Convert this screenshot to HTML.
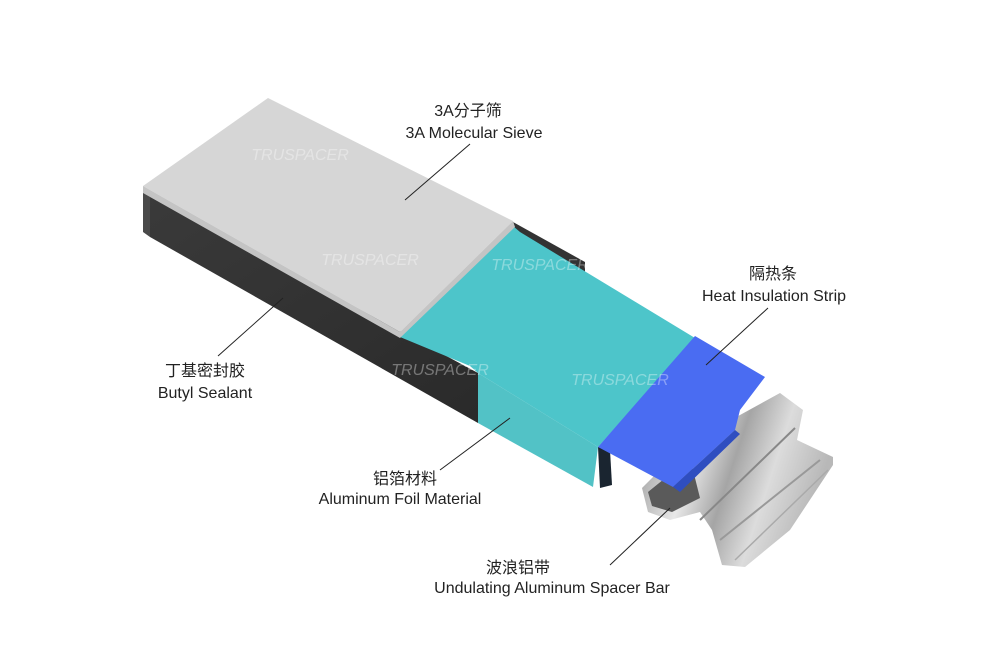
<!DOCTYPE html>
<html><head><meta charset="utf-8"><style>
html,body{margin:0;padding:0;background:#fff;}
svg{display:block}
text{font-family:"Liberation Sans","Noto Sans CJK SC",sans-serif;fill:#222;font-size:16px;text-anchor:middle}
</style></head><body>
<svg width="1000" height="666" viewBox="0 0 1000 666" xmlns="http://www.w3.org/2000/svg">
<defs>
<linearGradient id="blk" x1="0" y1="0" x2="1" y2="1">
<stop offset="0" stop-color="#3a3a3a"/><stop offset="1" stop-color="#2a2a2a"/></linearGradient>
<linearGradient id="al" x1="0" y1="0" x2="1" y2="0.3">
<stop offset="0" stop-color="#8a8a8a"/><stop offset="0.35" stop-color="#e8e8e8"/><stop offset="0.55" stop-color="#a5a5a5"/><stop offset="0.75" stop-color="#dcdcdc"/><stop offset="1" stop-color="#b8b8b8"/></linearGradient>
</defs>
<!-- spacer bar -->
<polygon points="780,393 803,410 797,440 833,457 833,465 790,530 745,567 722,565 712,530 700,512 670,520 648,512 642,488 690,440 740,415" fill="url(#al)"/>
<polygon points="648,492 690,458 700,498 672,512 652,506" fill="#5a5a5a"/>
<line x1="700" y1="520" x2="795" y2="428" stroke="#888" stroke-width="2"/>
<line x1="720" y1="540" x2="820" y2="460" stroke="#999" stroke-width="2"/>
<line x1="735" y1="560" x2="828" y2="470" stroke="#aaa" stroke-width="1.5"/>
<!-- black sealant -->
<polygon points="143,193 478,373 478,423 150,237" fill="url(#blk)"/>
<polygon points="143,190 150,195 150,237 143,232" fill="#4a4a4a"/>
<polygon points="513,222 585,262 585,282 513,234" fill="#333"/>
<!-- teal -->
<polygon points="400,337 513,226 520,232 695,338 598,447 478,373 470,366" fill="#4dc5ca"/>
<polygon points="478,373 598,447 593,487 478,423" fill="#52c2c6"/>
<polygon points="598,447 610,450 612,485 600,488" fill="#1a2530"/>
<!-- blue strip -->
<polygon points="598,447 695,336 765,377 740,410 735,430 673,487" fill="#4a6cf2"/>
<polygon points="673,487 735,430 740,434 680,492" fill="#2f4ec0"/>
<!-- gray sieve -->
<polygon points="143,186 268,98 513,221 400,332" fill="#d6d6d6"/>
<polygon points="143,186 400,332 513,221 515,227 400,338 143,193" fill="#c4c4c4"/>
<!-- watermarks -->
<g opacity="0.35" font-size="14" font-style="italic">
<text x="300" y="160" style="fill:#fff">TRUSPACER</text>
<text x="370" y="265" style="fill:#fff">TRUSPACER</text>
<text x="540" y="270" style="fill:#fff">TRUSPACER</text>
<text x="620" y="385" style="fill:#fff">TRUSPACER</text>
<text x="440" y="375" style="fill:#fff">TRUSPACER</text>
</g>
<!-- leaders -->
<g stroke="#222" stroke-width="1">
<line x1="470" y1="144" x2="405" y2="200"/>
<line x1="768" y1="308" x2="706" y2="365"/>
<line x1="218" y1="356" x2="283" y2="298"/>
<line x1="440" y1="470" x2="510" y2="418"/>
<line x1="610" y1="565" x2="670" y2="508"/>
</g>
<text x="468" y="116">3A分子筛</text>
<text x="474" y="138">3A Molecular Sieve</text>
<text x="773" y="279">隔热条</text>
<text x="774" y="301">Heat Insulation Strip</text>
<text x="205" y="376">丁基密封胶</text>
<text x="205" y="398">Butyl Sealant</text>
<text x="405" y="484">铝箔材料</text>
<text x="400" y="504">Aluminum Foil Material</text>
<text x="518" y="573">波浪铝带</text>
<text x="552" y="593">Undulating Aluminum Spacer Bar</text>
</svg>
</body></html>
